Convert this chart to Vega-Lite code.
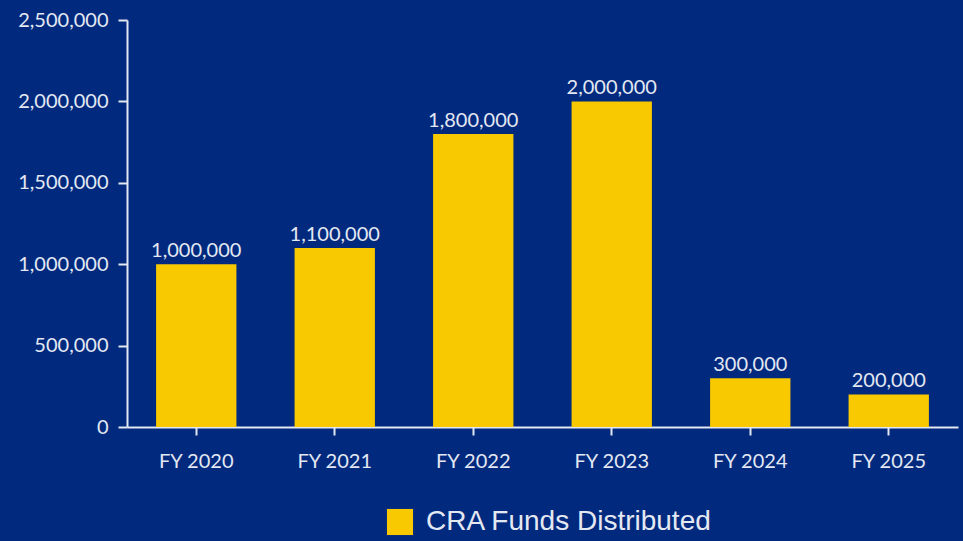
{
  "$schema": "https://vega.github.io/schema/vega-lite/v6.json",
  "autosize": {"type": "none"},
  "width": 831,
  "height": 407,
  "padding": {"left": 127, "top": 20, "right": 5, "bottom": 114},
  "background": "#012a7e",
  "config": {
    "view": {"stroke": null},
    "font": "Lato",
    "axis": {"labelColor": "#e4e8f2", "domainColor": "#e4e8f2", "tickColor": "#e4e8f2", "grid": false, "labelFont": "Lato", "labelFontSize": 20, "domainWidth": 2, "tickWidth": 2}
  },
  "data": {"values": [
    {"year": "FY 2020", "value": 1000000, "series": "CRA Funds Distributed"},
    {"year": "FY 2021", "value": 1100000, "series": "CRA Funds Distributed"},
    {"year": "FY 2022", "value": 1800000, "series": "CRA Funds Distributed"},
    {"year": "FY 2023", "value": 2000000, "series": "CRA Funds Distributed"},
    {"year": "FY 2024", "value": 300000, "series": "CRA Funds Distributed"},
    {"year": "FY 2025", "value": 200000, "series": "CRA Funds Distributed"}
  ]},
  "encoding": {
    "x": {"field": "year", "type": "nominal", "sort": null,
      "scale": {"paddingInner": 0.42, "paddingOuter": 0.21},
      "axis": {"title": null, "labelAngle": 0, "tickSize": 8, "labelPadding": 16}},
    "y": {"field": "value", "type": "quantitative",
      "scale": {"domain": [0, 2500000]},
      "axis": {"title": null, "values": [0, 500000, 1000000, 1500000, 2000000, 2500000], "labelExpr": "format(datum.value, ',')", "tickSize": 9, "labelPadding": 10}}
  },
  "layer": [
    {"mark": {"type": "bar", "color": "#f8c800"},
     "encoding": {"color": {"field": "series", "type": "nominal", "scale": {"range": ["#f8c800"]},
       "legend": {"title": null, "orient": "none", "legendX": 259, "legendY": 488, "direction": "horizontal", "symbolType": "square", "symbolSize": 680, "symbolFillColor": "#f8c800", "symbolStrokeWidth": 0, "labelColor": "#e4e8f2", "labelFont": "Liberation Sans", "labelFontSize": 28, "labelLimit": 500, "labelOffset": 12}}}},
    {"mark": {"type": "text", "baseline": "bottom", "dy": -3, "color": "#e4e8f2", "fontSize": 20, "font": "Lato"},
     "encoding": {"text": {"field": "value", "type": "quantitative", "format": ","}}}
  ]
}
